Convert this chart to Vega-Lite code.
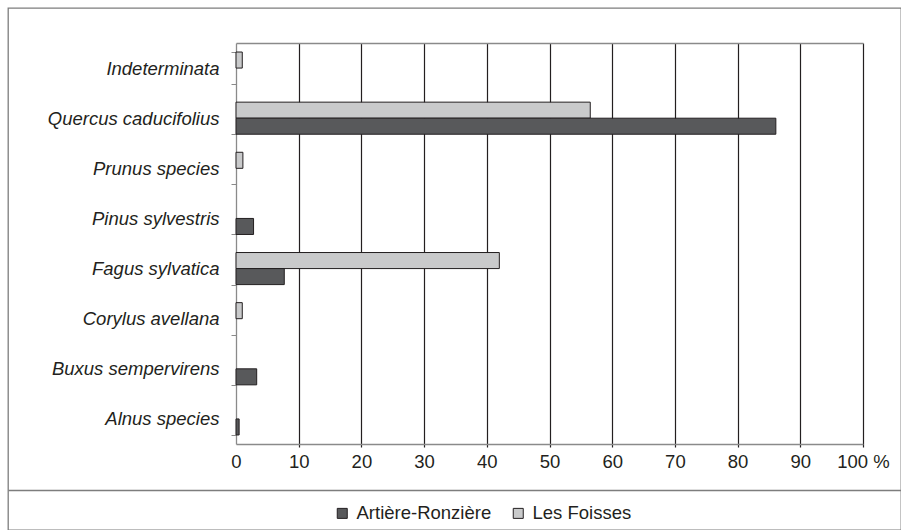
{
  "$schema": "https://vega.github.io/schema/vega-lite/v6.json",
  "autosize": {"type": "none"},
  "padding": {"left": 8, "top": 8, "right": 0, "bottom": 0},
  "background": "white",
  "width": 893,
  "height": 522,
  "config": {
    "font": "Liberation Sans",
    "view": {"stroke": "#7d7d7d", "strokeWidth": 1.3},
    "axis": {"labelFont": "Liberation Sans", "labelColor": "#231f20", "grid": false, "title": null}
  },
  "datasets": {
    "wood": [
      {"taxon": "Indeterminata", "site": "Les Foisses", "pct": 1.0},
      {"taxon": "Quercus caducifolius", "site": "Les Foisses", "pct": 56.5},
      {"taxon": "Quercus caducifolius", "site": "Artière-Ronzière", "pct": 86.1},
      {"taxon": "Prunus species", "site": "Les Foisses", "pct": 1.1},
      {"taxon": "Pinus sylvestris", "site": "Artière-Ronzière", "pct": 2.8},
      {"taxon": "Fagus sylvatica", "site": "Les Foisses", "pct": 42.0},
      {"taxon": "Fagus sylvatica", "site": "Artière-Ronzière", "pct": 7.7},
      {"taxon": "Corylus avellana", "site": "Les Foisses", "pct": 1.0},
      {"taxon": "Buxus sempervirens", "site": "Artière-Ronzière", "pct": 3.3},
      {"taxon": "Alnus species", "site": "Artière-Ronzière", "pct": 0.5}
    ],
    "none": []
  },
  "resolve": {"scale": {"x": "independent"}, "axis": {"x": "independent"}},
  "layer": [
    {
      "data": {"name": "none"},
      "mark": {"type": "point", "opacity": 0},
      "encoding": {
        "x": {
          "field": "frac", "type": "quantitative",
          "scale": {"domain": [0, 1], "nice": false},
          "axis": {
            "orient": "bottom", "offset": -40, "ticks": false, "labels": false,
            "domain": true, "domainColor": "#7d7d7d", "domainWidth": 1.3
          }
        }
      }
    },
    {
      "data": {"name": "none"},
      "mark": {"type": "point", "opacity": 0},
      "encoding": {
        "x": {
          "field": "pct", "type": "quantitative",
          "scale": {"domain": [0, 100], "range": [228, 855], "nice": false},
          "axis": {
            "orient": "bottom", "offset": -83, "values": [10, 20, 30, 40, 50, 60, 70, 80, 90, 100],
            "tickSize": -404, "tickColor": "#231f20", "tickWidth": 1.2, "labels": false, "domain": false
          }
        }
      }
    },
    {
      "data": {"name": "none"},
      "mark": {"type": "point", "opacity": 0},
      "encoding": {
        "x": {
          "field": "pct", "type": "quantitative",
          "scale": {"domain": [0, 100], "range": [228, 855], "nice": false},
          "axis": {
            "orient": "top", "offset": -35, "ticks": false, "labels": false,
            "domain": true, "domainColor": "#8a8a8a", "domainWidth": 1.3
          }
        }
      }
    },
    {
      "data": {"name": "wood"},
      "mark": {"type": "bar", "stroke": "#231f20", "strokeWidth": 1},
      "encoding": {
        "x": {
          "field": "pct", "type": "quantitative",
          "scale": {"domain": [0, 100], "range": [228, 855], "nice": false},
          "axis": {
            "orient": "bottom", "offset": -86, "values": [0, 10, 20, 30, 40, 50, 60, 70, 80, 90, 100],
            "ticks": false, "labelPadding": 8, "labelFontSize": 18.5,
            "labelOverlap": false, "labelFlush": false, "labelBound": false,
            "domainColor": "#8a8a8a", "domainWidth": 1.3,
            "labelExpr": "datum.value == 100 ? '100 %' : datum.label"
          }
        },
        "y": {
          "field": "taxon", "type": "nominal",
          "sort": ["Indeterminata", "Quercus caducifolius", "Prunus species", "Pinus sylvestris", "Fagus sylvatica", "Corylus avellana", "Buxus sempervirens", "Alnus species"],
          "scale": {
            "domain": ["Indeterminata", "Quercus caducifolius", "Prunus species", "Pinus sylvestris", "Fagus sylvatica", "Corylus avellana", "Buxus sempervirens", "Alnus species"],
            "range": [35, 436], "paddingInner": 0.36, "paddingOuter": 0.18
          },
          "axis": {
            "orient": "left", "offset": -228, "tickBand": "extent", "tickSize": 5,
            "tickColor": "#8a8a8a", "domainColor": "#8a8a8a", "domainWidth": 1.3,
            "labelPadding": 12, "labelFontSize": 18.5, "labelFontStyle": "italic", "labelLimit": 0,
            "labelOverlap": false
          }
        },
        "yOffset": {
          "field": "site", "type": "nominal",
          "scale": {"domain": ["Les Foisses", "Artière-Ronzière"], "paddingInner": 0, "paddingOuter": 0}
        },
        "color": {
          "field": "site", "type": "nominal",
          "scale": {"domain": ["Artière-Ronzière", "Les Foisses"], "range": ["#58595b", "#c9cacb"]},
          "legend": {
            "title": null, "orient": "none", "legendX": 325, "legendY": 496,
            "direction": "horizontal", "symbolType": "square", "symbolSize": 100,
            "symbolStrokeColor": "#231f20", "symbolStrokeWidth": 1, "symbolOpacity": 1,
            "labelFont": "Liberation Sans", "labelFontSize": 18.5, "labelColor": "#231f20",
            "labelOffset": 5, "columnPadding": 17, "padding": 0
          }
        }
      }
    }
  ]
}
